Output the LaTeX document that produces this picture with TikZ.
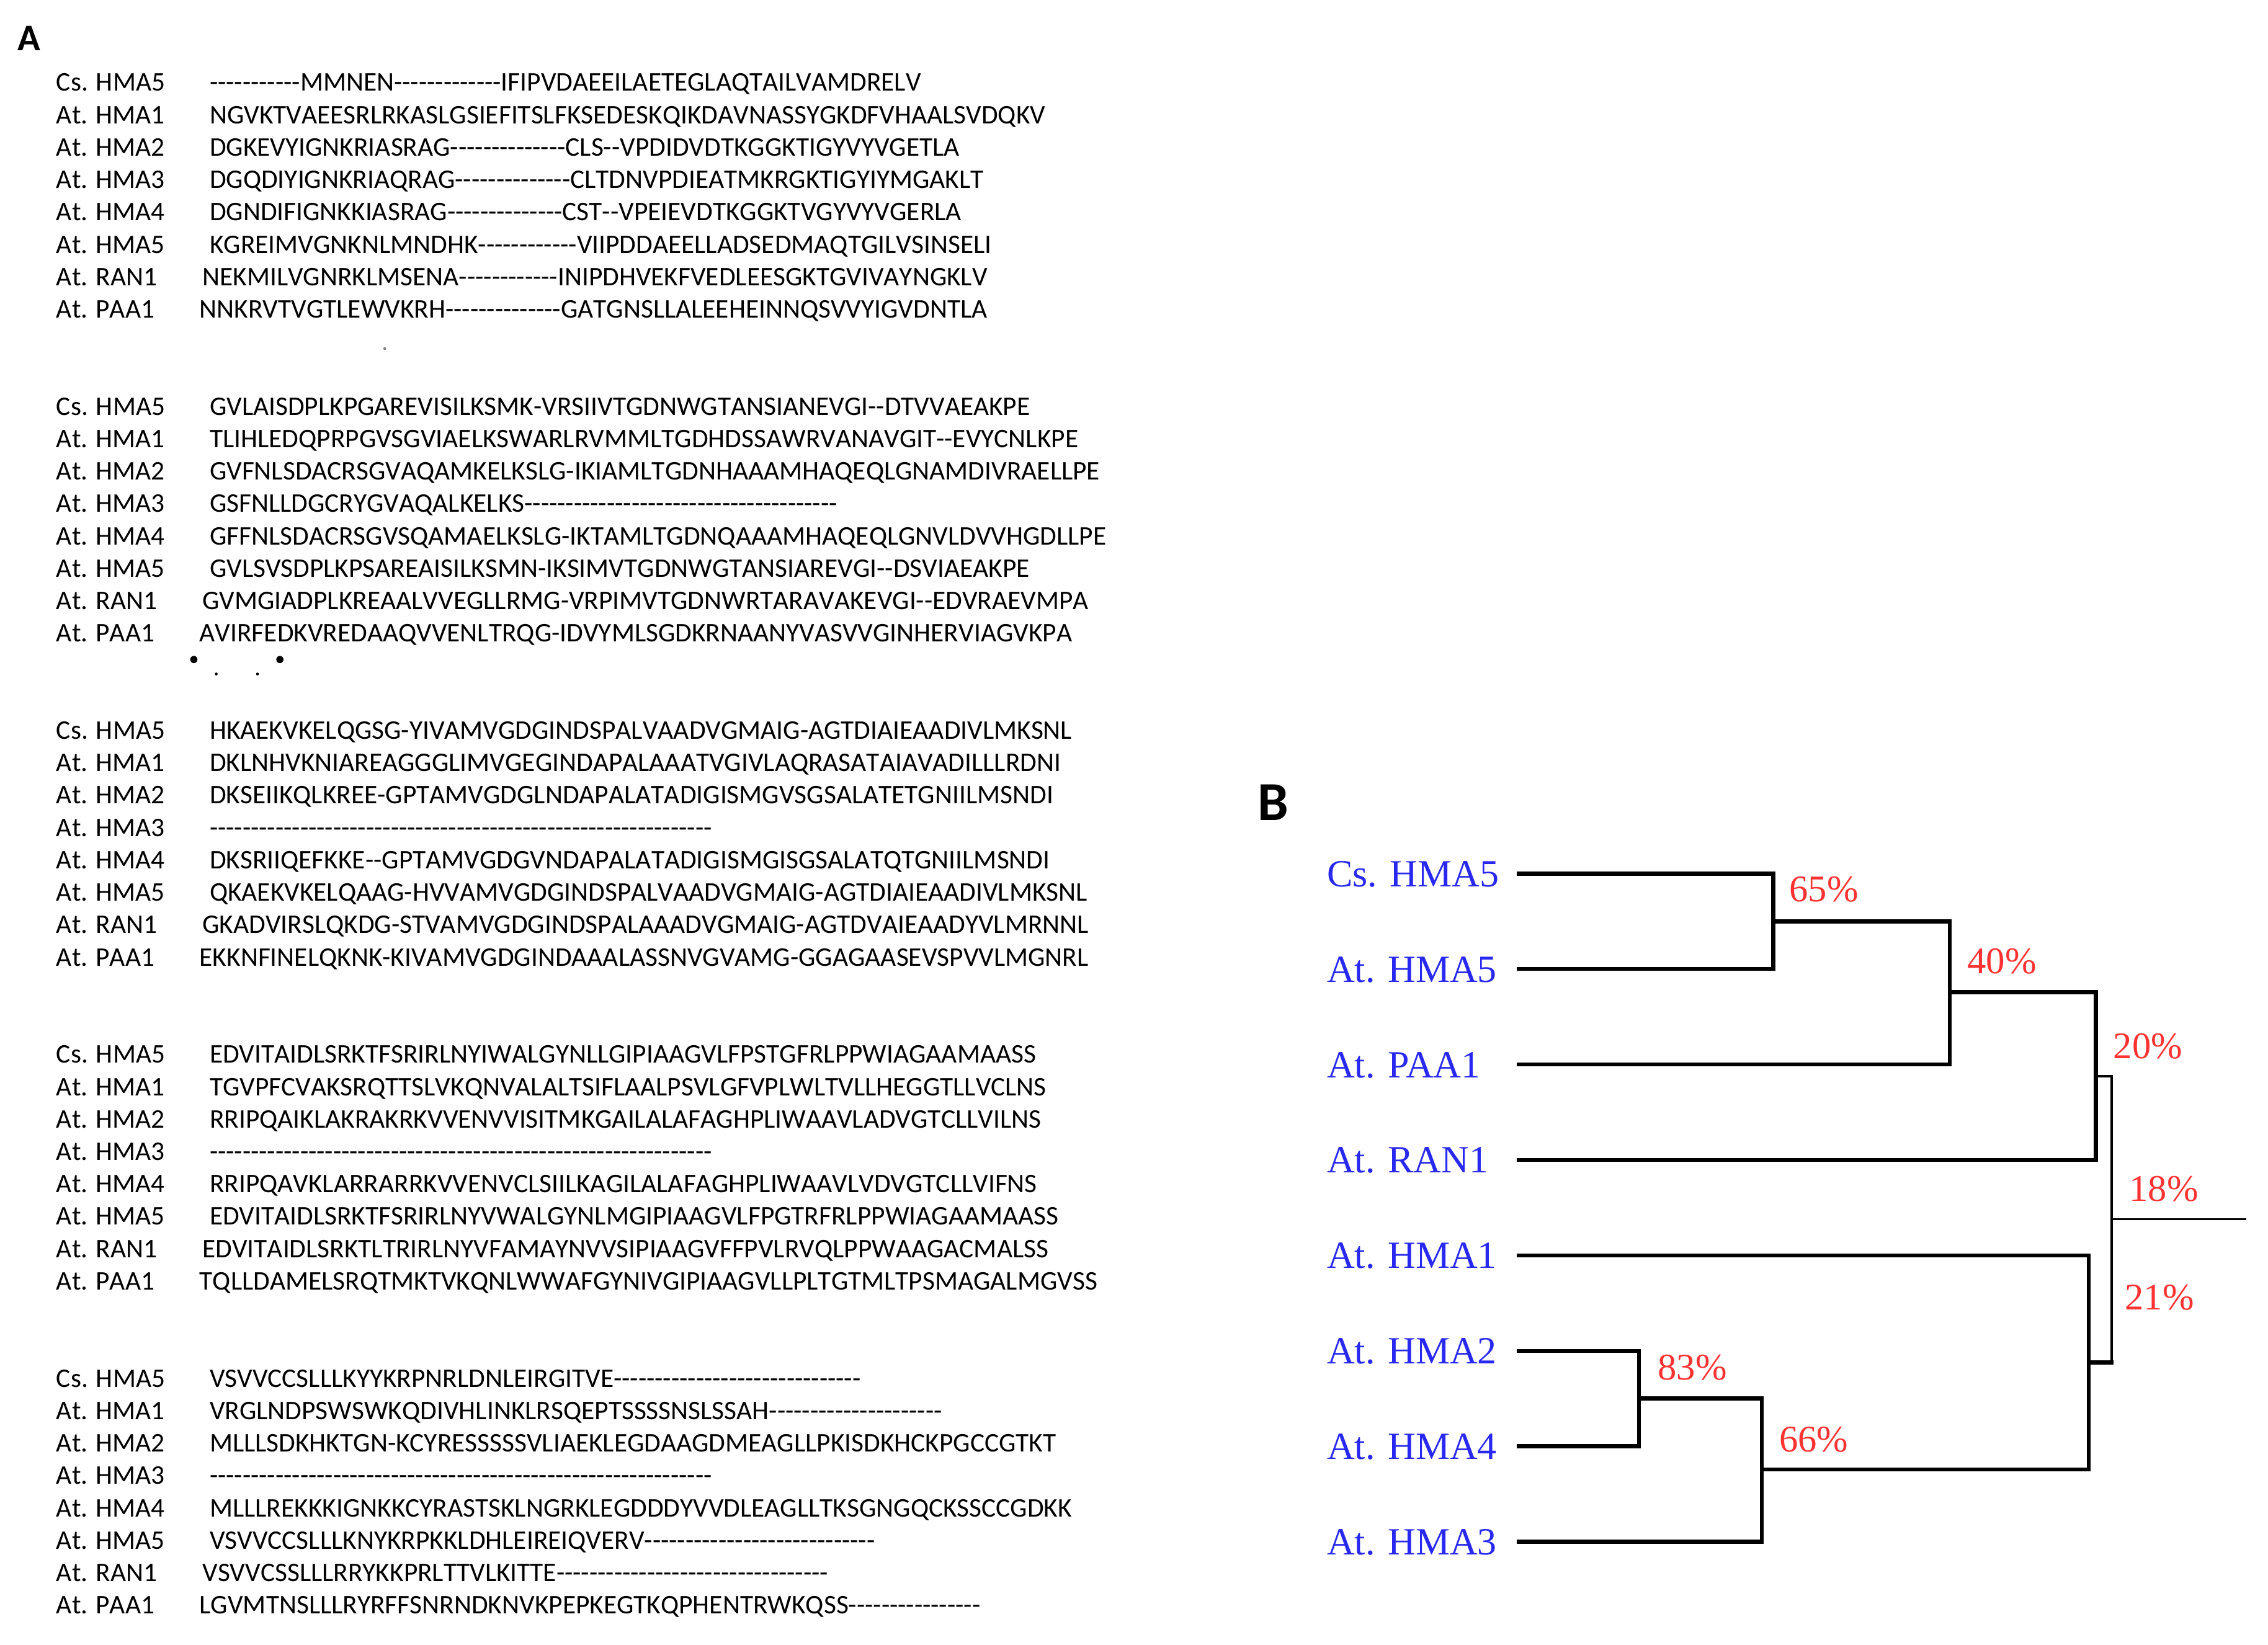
\documentclass[tikz,border=0pt]{standalone}
\usepackage{fontspec}
\newfontfamily\seqfont{Carlito}[Kerning=Off]
\newfontfamily\treefont{Liberation Serif}
\ExplSyntaxOn
\cs_new:Npn \dsh #1 {\prg_replicate:nn{#1}{\hbox{-}}}
\ExplSyntaxOff
\definecolor{lblblue}{RGB}{40,40,240}
\definecolor{pctred}{RGB}{255,50,50}
\newcommand\sq[4]{\node[seq] (s#1#2) at (#3,{63+224*#1+22.4*#2}) {#4};}
\tikzset{
  seq/.style={anchor=base west, inner sep=0pt, outer sep=0pt, font=\seqfont\fontsize{9.3}{11}\selectfont},
  lbl/.style={anchor=base west, inner sep=0pt, text=lblblue, font=\treefont\fontsize{13.3}{16}\selectfont},
  pct/.style={anchor=base, inner sep=0pt, text=pctred, font=\treefont\fontsize{13}{15}\selectfont},
  panel/.style={anchor=base west, inner sep=0pt, font=\seqfont\bfseries},
  br/.style={line width=1.4pt, line join=miter, line cap=rect},
  thinbr/.style={line width=0.8pt},
  rootline/.style={line width=0.7pt}
}
\begin{document}
\begin{tikzpicture}[x=0.5pt,y=-0.5pt]
\useasboundingbox (0,0) rectangle (1568,1137);
% panel letters
\node[panel, font=\seqfont\bfseries\fontsize{13}{15}\selectfont] (A) at (12,35) {A};
\node[panel, font=\seqfont\bfseries\fontsize{19}{22}\selectfont] (B) at (869,567) {B};
% sequence names
\foreach \b in {0,...,4}{
  \foreach \nm [count=\r from 0] in {Cs. HMA5,At. HMA1,At. HMA2,At. HMA3,At. HMA4,At. HMA5,At. RAN1,At. PAA1}{
    \node[seq] (nm\b\r) at (39,{63+224*\b+22.4*\r}) {\nm};
  }
}
% block 1
\sq{0}{0}{145}{\dsh{11}MMNEN\dsh{13}IFIPVDAEEILAETEGLAQTAILVAMDRELV}
\sq{0}{1}{145}{NGVKTVAEESRLRKASLGSIEFITSLFKSEDESKQIKDAVNASSYGKDFVHAALSVDQKV}
\sq{0}{2}{145}{DGKEVYIGNKRIASRAG\dsh{14}CLS\dsh{2}VPDIDVDTKGGKTIGYVYVGETLA}
\sq{0}{3}{145}{DGQDIYIGNKRIAQRAG\dsh{14}CLTDNVPDIEATMKRGKTIGYIYMGAKLT}
\sq{0}{4}{145}{DGNDIFIGNKKIASRAG\dsh{14}CST\dsh{2}VPEIEVDTKGGKTVGYVYVGERLA}
\sq{0}{5}{145}{KGREIMVGNKNLMNDHK\dsh{12}VIIPDDAEELLADSEDMAQTGILVSINSELI}
\sq{0}{6}{140}{NEKMILVGNRKLMSENA\dsh{12}INIPDHVEKFVEDLEESGKTGVIVAYNGKLV}
\sq{0}{7}{138}{NNKRVTVGTLEWVKRH\dsh{14}GATGNSLLALEEHEINNQSVVYIGVDNTLA}
% block 2
\sq{1}{0}{145}{GVLAISDPLKPGAREVISILKSMK-VRSIIVTGDNWGTANSIANEVGI\dsh{2}DTVVAEAKPE}
\sq{1}{1}{145}{TLIHLEDQPRPGVSGVIAELKSWARLRVMMLTGDHDSSAWRVANAVGIT\dsh{2}EVYCNLKPE}
\sq{1}{2}{145}{GVFNLSDACRSGVAQAMKELKSLG-IKIAMLTGDNHAAAMHAQEQLGNAMDIVRAELLPE}
\sq{1}{3}{145}{GSFNLLDGCRYGVAQALKELKS\dsh{38}}
\sq{1}{4}{145}{GFFNLSDACRSGVSQAMAELKSLG-IKTAMLTGDNQAAAMHAQEQLGNVLDVVHGDLLPE}
\sq{1}{5}{145}{GVLSVSDPLKPSAREAISILKSMN-IKSIMVTGDNWGTANSIAREVGI\dsh{2}DSVIAEAKPE}
\sq{1}{6}{140}{GVMGIADPLKREAALVVEGLLRMG-VRPIMVTGDNWRTARAVAKEVGI\dsh{2}EDVRAEVMPA}
\sq{1}{7}{138}{AVIRFEDKVREDAAQVVENLTRQG-IDVYMLSGDKRNAANYVASVVGINHERVIAGVKPA}
% block 3
\sq{2}{0}{145}{HKAEKVKELQGSG-YIVAMVGDGINDSPALVAADVGMAIG-AGTDIAIEAADIVLMKSNL}
\sq{2}{1}{145}{DKLNHVKNIAREAGGGLIMVGEGINDAPALAAATVGIVLAQRASATAIAVADILLLRDNI}
\sq{2}{2}{145}{DKSEIIKQLKREE-GPTAMVGDGLNDAPALATADIGISMGVSGSALATETGNIILMSNDI}
\sq{2}{3}{145}{\dsh{61}}
\sq{2}{4}{145}{DKSRIIQEFKKE\dsh{2}GPTAMVGDGVNDAPALATADIGISMGISGSALATQTGNIILMSNDI}
\sq{2}{5}{145}{QKAEKVKELQAAG-HVVAMVGDGINDSPALVAADVGMAIG-AGTDIAIEAADIVLMKSNL}
\sq{2}{6}{140}{GKADVIRSLQKDG-STVAMVGDGINDSPALAAADVGMAIG-AGTDVAIEAADYVLMRNNL}
\sq{2}{7}{138}{EKKNFINELQKNK-KIVAMVGDGINDAAALASSNVGVAMG-GGAGAASEVSPVVLMGNRL}
% block 4
\sq{3}{0}{145}{EDVITAIDLSRKTFSRIRLNYIWALGYNLLGIPIAAGVLFPSTGFRLPPWIAGAAMAASS}
\sq{3}{1}{145}{TGVPFCVAKSRQTTSLVKQNVALALTSIFLAALPSVLGFVPLWLTVLLHEGGTLLVCLNS}
\sq{3}{2}{145}{RRIPQAIKLAKRAKRKVVENVVISITMKGAILALAFAGHPLIWAAVLADVGTCLLVILNS}
\sq{3}{3}{145}{\dsh{61}}
\sq{3}{4}{145}{RRIPQAVKLARRARRKVVENVCLSIILKAGILALAFAGHPLIWAAVLVDVGTCLLVIFNS}
\sq{3}{5}{145}{EDVITAIDLSRKTFSRIRLNYVWALGYNLMGIPIAAGVLFPGTRFRLPPWIAGAAMAASS}
\sq{3}{6}{140}{EDVITAIDLSRKTLTRIRLNYVFAMAYNVVSIPIAAGVFFPVLRVQLPPWAAGACMALSS}
\sq{3}{7}{138}{TQLLDAMELSRQTMKTVKQNLWWAFGYNIVGIPIAAGVLLPLTGTMLTPSMAGALMGVSS}
% block 5
\sq{4}{0}{145}{VSVVCCSLLLKYYKRPNRLDNLEIRGITVE\dsh{30}}
\sq{4}{1}{145}{VRGLNDPSWSWKQDIVHLINKLRSQEPTSSSSNSLSSAH\dsh{21}}
\sq{4}{2}{145}{MLLLSDKHKTGN-KCYRESSSSSVLIAEKLEGDAAGDMEAGLLPKISDKHCKPGCCGTKT}
\sq{4}{3}{145}{\dsh{61}}
\sq{4}{4}{145}{MLLLREKKKIGNKKCYRASTSKLNGRKLEGDDDYVVDLEAGLLTKSGNGQCKSSCCGDKK}
\sq{4}{5}{145}{VSVVCCSLLLKNYKRPKKLDHLEIREIQVERV\dsh{28}}
\sq{4}{6}{140}{VSVVCSSLLLRRYKKPRLTTVLKITTE\dsh{33}}
\sq{4}{7}{138}{LGVMTNSLLLRYRFFSNRNDKNVKPEPKEGTKQPHENTRWKQSS\dsh{16}}
% stray marks
\fill[gray] (266,241) circle (1);
\fill (134,456) circle (2.5);
\fill (193.5,456) circle (2.5);
\fill (149.5,466) circle (1);
\fill (178,466) circle (1);
% tree labels
\node[lbl] (t1) at (917,613) {Cs. HMA5};
\node[lbl] (t2) at (917,679) {At. HMA5};
\node[lbl] (t3) at (917,745) {At. PAA1};
\node[lbl] (t4) at (917,811) {At. RAN1};
\node[lbl] (t5) at (917,877) {At. HMA1};
\node[lbl] (t6) at (917,943) {At. HMA2};
\node[lbl] (t7) at (917,1009) {At. HMA4};
\node[lbl] (t8) at (917,1075) {At. HMA3};
% tree coordinates
\coordinate (l1) at (1050,604);
\coordinate (l2) at (1050,670);
\coordinate (l3) at (1050,736);
\coordinate (l4) at (1050,802);
\coordinate (l5) at (1050,868);
\coordinate (l6) at (1050,934);
\coordinate (l7) at (1050,1000);
\coordinate (l8) at (1050,1066);
\coordinate (n65) at (1226,637);
\coordinate (n40) at (1348,686);
\coordinate (n20) at (1449,744);
\coordinate (n83) at (1133,967);
\coordinate (n66) at (1218,1016);
\coordinate (n21) at (1444,942);
\coordinate (j20) at (1460,744);
\coordinate (j21) at (1460,942);
\coordinate (n18) at (1460,843);
\coordinate (rt) at (1553,843);
% tree branches
\draw[br] (l1) -| (n65) |- (l2);
\draw[br] (n65) -| (n40) |- (l3);
\draw[br] (n40) -| (n20) |- (l4);
\draw[br] (l6) -| (n83) |- (l7);
\draw[br] (n83) -| (n66) |- (l8);
\draw[br] (n66) -| (n21) |- (l5);
\draw[thinbr] (n20) -- (j20) -- (j21);
\draw[br] (j21) -- (n21);
\draw[rootline] (n18) -- (rt);
% bootstrap values
\node[pct] (p65) at (1261,623.5) {65\%};
\node[pct] (p40) at (1384,673.3) {40\%};
\node[pct] (p20) at (1485,732) {20\%};
\node[pct] (p18) at (1496,830.7) {18\%};
\node[pct] (p21) at (1493,905.4) {21\%};
\node[pct] (p83) at (1170,954) {83\%};
\node[pct] (p66) at (1254,1003.8) {66\%};
\end{tikzpicture}
\end{document}
